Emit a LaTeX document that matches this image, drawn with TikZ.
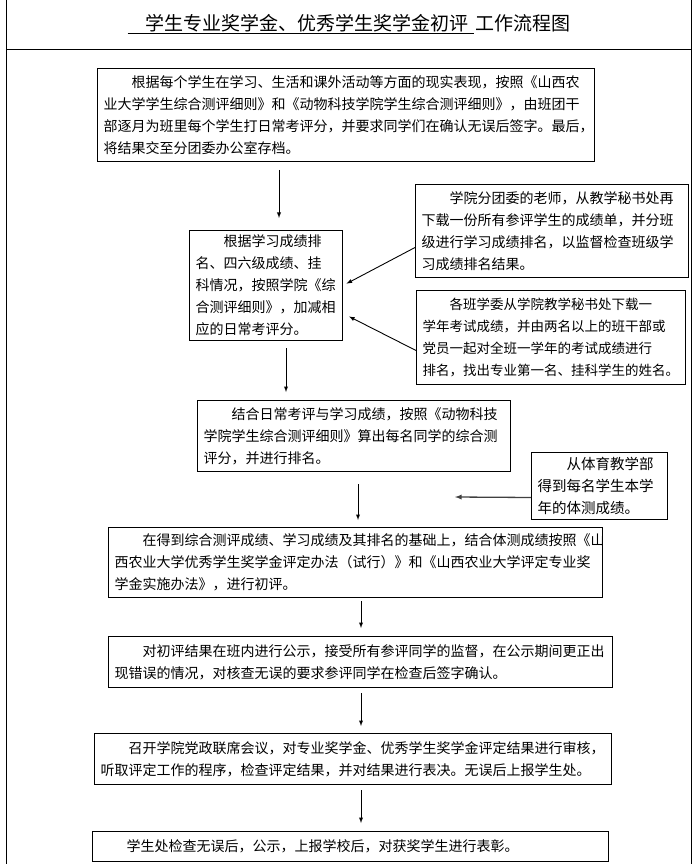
\documentclass[tikz,border=0pt]{standalone}
\usepackage{fontspec}
\setmainfont{Noto Sans CJK SC}
\usepackage{tikz}

\begin{document}
\begin{tikzpicture}[x=1pt,y=-1pt,
  box/.style={draw,line width=1pt,anchor=north west,align=left,inner xsep=6pt,inner ysep=0pt,font=\fontsize{14}{22}\selectfont},
  flow/.style={line width=0.9pt,-latex,shorten <=6pt,shorten >=8pt}]

\useasboundingbox (0,0) rectangle (697,866);

% Outer frame and title row.
\draw[line width=1pt] (6,0) -- (6,864);
\draw[line width=1pt] (691,0) -- (691,864);
\draw[line width=1pt] (6,50) -- (691,50);
\node (title) at (349,24) {\fontsize{19}{22}\selectfont\underline{\hspace{18pt}学生专业奖学金、优秀学生奖学金初评\hspace{5pt}}\hspace{2pt}工作流程图};

% Define coordinates.
\coordinate (c1) at (279,0);   %x of first arrow.
\coordinate (c2) at (286,0);
\coordinate (c3) at (358,0);
\coordinate (c4) at (361,0);   %x of the lower arrows.
\coordinate (sportend) at (455,497);

% Boxes, placed by their upper left corner.
\node[box,minimum height=93pt,text width=485pt] (daily) at (97,68) {\hspace*{2em}根据每个学生在学习、生活和课外活动等方面的现实表现，按照《山西农\\业大学学生综合测评细则》和《动物科技学院学生综合测评细则》，由班团干\\部逐月为班里每个学生打日常考评分，并要求同学们在确认无误后签字。最后，\\将结果交至分团委办公室存档。};
\node[box,minimum height=110pt,text width=141pt] (rank) at (189,230) {\hspace*{2em}根据学习成绩排\\名、四六级成绩、挂\\科情况，按照学院《综\\合测评细则》，加减相\\应的日常考评分。};
\node[box,minimum height=93pt,text width=261pt] (teacher) at (415,184) {\hspace*{2em}学院分团委的老师，从教学秘书处再\\下载一份所有参评学生的成绩单，并分班\\级进行学习成绩排名，以监督检查班级学\\习成绩排名结果。};
\node[box,minimum height=94pt,text width=257pt,font=\fontsize{13.5}{22}\selectfont] (monitor) at (416,290) {\hspace*{2em}各班学委从学院教学秘书处下载一\\学年考试成绩，并由两名以上的班干部或\\党员一起对全班一学年的考试成绩进行\\排名，找出专业第一名、挂科学生的姓名。};
\node[box,minimum height=71pt,text width=301pt] (total) at (197,400) {\hspace*{2em}结合日常考评与学习成绩，按照《动物科技\\学院学生综合测评细则》算出每名同学的综合测\\评分，并进行排名。};
\node[box,minimum height=67pt,text width=124pt,font=\fontsize{14.5}{22}\selectfont] (sport) at (531,452) {\hspace*{2em}从体育教学部\\得到每名学生本学\\年的体测成绩。};
\node[box,minimum height=70pt,text width=482pt] (prelim) at (108,527) {\hspace*{2em}在得到综合测评成绩、学习成绩及其排名的基础上，结合体测成绩按照《山\\西农业大学优秀学生奖学金评定办法（试行）》和《山西农业大学评定专业奖\\学金实施办法》，进行初评。};
\node[box,minimum height=51pt,text width=492pt] (publish) at (108,636) {\hspace*{2em}对初评结果在班内进行公示，接受所有参评同学的监督，在公示期间更正出\\现错误的情况，对核查无误的要求参评同学在检查后签字确认。};
\node[box,minimum height=51pt,text width=505pt] (meeting) at (94,733) {\hspace*{2em}召开学院党政联席会议，对专业奖学金、优秀学生奖学金评定结果进行审核，\\听取评定工作的程序，检查评定结果，并对结果进行表决。无误后上报学生处。};
\node[box,minimum height=30pt,text width=504pt] (award) at (92,831) {\hspace*{2em}学生处检查无误后，公示，上报学校后，对获奖学生进行表彰。};

% Main flow arrows.
\draw[flow,shorten <=8pt,shorten >=12pt] (daily.south -| c1) -- (rank.north -| c1);
\draw[flow,shorten <=7pt] (rank.south -| c2) -- (total.north -| c2);
\draw[flow,shorten <=12pt,shorten >=7pt] (total.south -| c3) -- (prelim.north -| c3);
\draw[flow,shorten <=3pt] (prelim.south -| c4) -- (publish.north -| c4);
\draw[flow,shorten <=5pt,shorten >=7pt] (publish.south -| c4) -- (meeting.north -| c4);
\draw[flow,shorten <=5pt] (meeting.south -| c4) -- (award.north -| c4);

% Side inputs.
\draw[flow,shorten <=0pt,shorten >=4pt] ([yshift=-16.5pt]teacher.west) -- (rank.east);
\draw[flow,shorten <=0pt,shorten >=0pt] ([yshift=-13pt]monitor.west) -- ([xshift=6pt,yshift=-31pt]rank.east);
\draw[flow,draw=black!75,line width=1.3pt,shorten <=0pt,shorten >=0pt] ([yshift=-11.5pt]sport.west) -- (sportend);

\end{tikzpicture}
\end{document}
